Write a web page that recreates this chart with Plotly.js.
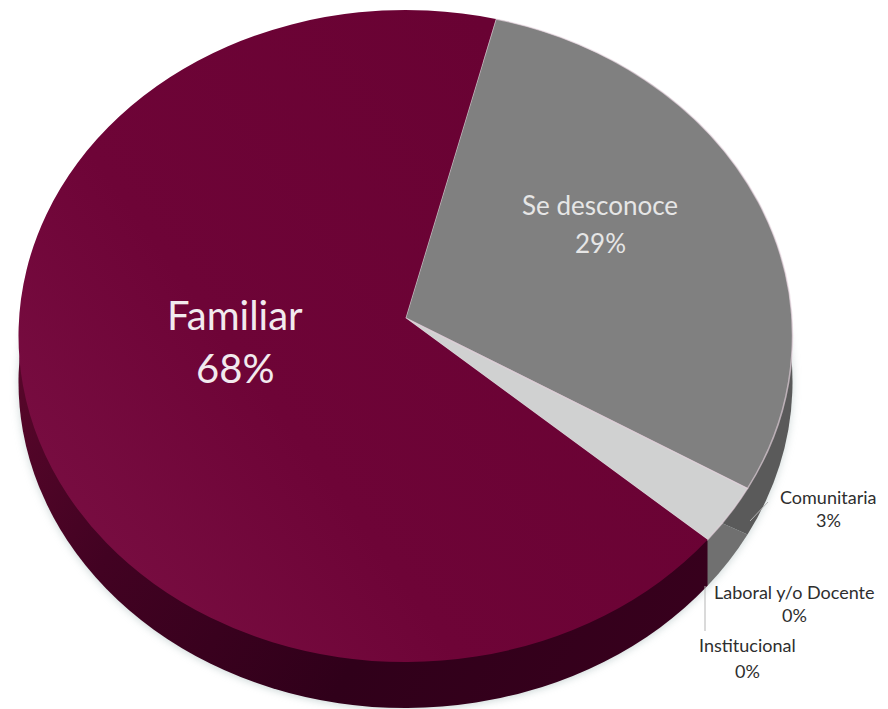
<!DOCTYPE html>
<html>
<head>
<meta charset="utf-8">
<script src="https://cdn.plot.ly/plotly-3.0.0.min.js"></script>
<style>html,body{margin:0;padding:0;background:#fff;overflow:hidden}#chart{width:888px;height:709px}</style>
</head>
<body>
<div id="chart"></div>
<script>
var categories = ["Se desconoce", "Comunitaria", "Laboral y/o Docente", "Institucional", "Familiar"];
var values = [29, 3, 0, 0, 68];
var faceColors = ["#808080", "#d0d1d1", "#a0a0a0", "#a0a0a0", "#6f0538"];
var sideColors = ["#5a5a5a", "#707070", "#707070", "#707070", "#3f0021"];
var edgeWidths = [1.4, 1.4, 0, 0, 0];
var rotationDeg = 13.5;

function pieTrace(colors, line) {
  return {
    type: "pie", labels: categories, values: values, sort: false, direction: "clockwise",
    rotation: rotationDeg, textinfo: "none", hoverinfo: "skip", showlegend: false,
    domain: {x: [0, 1], y: [0, 1]},
    marker: {colors: colors, line: line}
  };
}
function px(x) { return x / 888; }
function py(y) { return 1 - y / 709; }
function label(text, x, y, size, color) {
  return {text: text, x: px(x), y: py(y), xref: "paper", yref: "paper", showarrow: false,
    xanchor: "center", yanchor: "middle", font: {family: "Lato, 'Open Sans', sans-serif", size: size, color: color}};
}
function leader(x0, y0, x1, y1) {
  return {type: "line", xref: "paper", yref: "paper", x0: px(x0), y0: py(y0), x1: px(x1), y1: py(y1),
    line: {color: "#b5b5b5", width: 1}};
}
// name / percent label placement: [index, xCenter, yName, yPct, size, color]
var placements = [
  [4, 235, 315, 368, 40, "#f2eaee"],
  [0, 600, 205, 243, 26, "#e6e6e6"],
  [1, 828, 497, 520, 18, "#2e2e2e"],
  [2, 794, 592, 615, 18, "#2e2e2e"],
  [3, 747, 645, 671, 18, "#2e2e2e"]
];
var annotations = [];
placements.forEach(function (p) {
  annotations.push(label(categories[p[0]], p[1], p[2], p[4], p[5]));
  annotations.push(label(values[p[0]] + "%", p[1], p[3], p[4], p[5]));
});

var layout = {
  width: 888, height: 709, margin: {l: 0, r: 0, t: 0, b: 0},
  paper_bgcolor: "#fff", showlegend: false,
  annotations: annotations,
  shapes: [leader(768, 502, 750, 521), leader(705, 586, 705, 631)]
};
var data = [
  pieTrace(sideColors, {width: 0}),
  pieTrace(faceColors, {width: edgeWidths, color: "rgba(232,214,224,0.65)"})
];
function addGradient(svg, id, stops, x1, y1, x2, y2) {
  var ns = "http://www.w3.org/2000/svg";
  var defs = document.createElementNS(ns, "defs");
  var g = document.createElementNS(ns, "linearGradient");
  g.setAttribute("id", id);
  g.setAttribute("x1", x1); g.setAttribute("y1", y1); g.setAttribute("x2", x2); g.setAttribute("y2", y2);
  stops.forEach(function (s) {
    var st = document.createElementNS(ns, "stop");
    st.setAttribute("offset", s[0]); st.setAttribute("stop-color", s[1]);
    g.appendChild(st);
  });
  defs.appendChild(g);
  svg.appendChild(defs);
}
var pathMatch = /^M([-\d.e]+),([-\d.e]+)l([-\d.e]+),([-\d.e]+)/;
Plotly.newPlot("chart", data, layout, {displayModeBar: false, staticPlot: true}).then(function () {
  var cx0 = 444, cy0 = 354.5, r0 = 354.5;
  var sx = 387 / r0, sy = 326 / r0, depth = 46;
  var traces = document.querySelectorAll(".pielayer .trace");
  var svg = document.querySelector("#chart svg.main-svg");
  addGradient(svg, "faceMaroon", [[0, "#690233"], [0.6, "#6e0437"], [1, "#790e42"]], 0.8, 0.2, 0, 0.75);
  addGradient(svg, "sideMaroon", [[0, "#5a072b"], [0.25, "#420222"], [0.6, "#30001a"], [1, "#38001d"]], 0, 0.4, 1, 0.9);
  function place(g, cx, cy) {
    g.setAttribute("transform", "translate(" + cx + "," + cy + ") scale(" + sx + "," + sy + ") translate(" + (-cx0) + "," + (-cy0) + ")");
  }
  place(traces[0], 405.5, 336 + depth);
  place(traces[1], 405.5, 336);
  traces[0].style.filter = "drop-shadow(0 2px 4px rgba(120,150,150,0.35))";
  function isFamiliar(p) {
    return p.style.fill === "rgb(111, 5, 56)" || p.style.fill === "rgb(63, 0, 33)";
  }
  // side wall: the maroon wall must end in a vertical seam under the outer end of its wedge
  traces[0].querySelectorAll("path.surface").forEach(function (p) {
    if (!isFamiliar(p)) return;
    var d = p.getAttribute("d") || "", m = d.match(pathMatch);
    if (m) {
      var sxp = parseFloat(m[1]) + parseFloat(m[3]), syp = parseFloat(m[2]) + parseFloat(m[4]);
      var lift = depth / sy;
      p.setAttribute("d", "M" + sxp + "," + (syp - lift) + "l0," + lift + d.slice(m[0].length));
    }
    p.style.fill = "url(#sideMaroon)";
  });
  // perspective: the apex of the upper face sits above the centre of its ellipse
  var shift = -18 / sy;
  traces[1].querySelectorAll("path.surface").forEach(function (p) {
    var d = p.getAttribute("d") || "", m = d.match(pathMatch);
    if (m) {
      var y = parseFloat(m[2]) + shift, dy = parseFloat(m[4]) - shift;
      p.setAttribute("d", "M" + m[1] + "," + y + "l" + m[3] + "," + dy + d.slice(m[0].length));
    }
    if (isFamiliar(p)) p.style.fill = "url(#faceMaroon)";
  });
});
</script>
</body>
</html>
